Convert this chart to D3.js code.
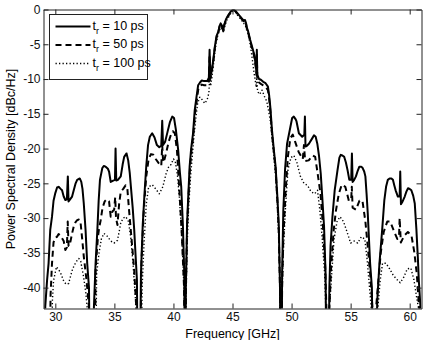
<!DOCTYPE html>
<html>
<head>
<meta charset="utf-8">
<script src="https://cdn.jsdelivr.net/npm/d3@7"></script>
<style>
	body { margin: 0; background: #fff; }
	svg { display: block; font-family: Arial, "Liberation Sans", sans-serif; }
</style>
</head>
<body>
<svg id="chart" width="427" height="340"></svg>
<script>
// PSD of the pulse train, [frequency GHz, dBc/Hz], -60 marks a null below the axis
const psd_10ps = [
	[29.05,-60],[29.15,-42.7],[29.3,-39],[29.43,-36.5],[29.57,-31.7],[29.72,-29.8],[29.85,-27.5],[30.0,-26.4],[30.15,-25.6],[30.28,-25.5],[30.45,-25.8],[30.57,-26.0],[30.71,-26.9],[30.85,-27.4],[30.98,-27.3],[31.06,-24.0],[31.12,-27.6],[31.25,-27.3],[31.42,-26.9],[31.56,-26.0],[31.72,-25.0],[31.85,-24.5],[32.07,-24.3],[32.2,-24.8],[32.3,-25.8],[32.41,-27.9],[32.56,-31.7],[32.7,-36.5],[32.85,-40],[32.97,-60],
	[33.12,-60],[33.27,-42.7],[33.41,-36.5],[33.56,-31.7],[33.67,-27.5],[33.78,-24.5],[33.98,-22.8],[34.1,-22.5],[34.26,-22.6],[34.45,-22.9],[34.55,-23.3],[34.69,-24.8],[34.9,-24.6],[35.05,-24.5],[35.1,-20.0],[35.16,-24.6],[35.3,-24.5],[35.54,-24.0],[35.7,-22.3],[35.83,-21.2],[36.03,-20.7],[36.17,-21.7],[36.3,-23.5],[36.4,-25.5],[36.55,-28.5],[36.68,-31.7],[36.8,-35.5],[36.91,-38.9],[37.0,-60],
	[37.12,-60],[37.25,-38],[37.4,-31],[37.55,-26.5],[37.7,-22.5],[37.85,-19.5],[38.0,-18.3],[38.2,-17.8],[38.4,-18.4],[38.6,-19.5],[38.8,-19.8],[38.97,-19.6],[39.05,-16.0],[39.12,-19.5],[39.3,-19.0],[39.5,-17.6],[39.7,-16.2],[39.9,-15.4],[40.05,-15.6],[40.2,-17.2],[40.4,-20.2],[40.55,-23.5],[40.66,-25.5],[40.8,-31],[40.92,-38],[40.97,-60],
	[41.0,-60],[41.05,-40],[41.15,-31],[41.25,-27],[41.37,-22.6],[41.5,-20],[41.66,-17.8],[41.8,-14.5],[41.95,-12.6],[42.09,-10.9],[42.25,-10.5],[42.4,-10.2],[42.6,-10.3],[42.86,-10.3],[43.0,-9.8],[43.06,-5.8],[43.12,-9.6],[43.22,-9.0],[43.37,-7.3],[43.5,-5.4],[43.65,-3.8],[43.8,-3.2],[43.9,-2.4],[44.0,-2.0],[44.1,-2.3],[44.22,-3.0],[44.3,-2.2],[44.45,-1.4],[44.65,-0.8],[44.85,-0.3],[45.05,0],
	[45.25,-0.2],[45.5,-0.7],[45.75,-1.2],[45.95,-1.6],[46.06,-1.5],[46.15,-2.0],[46.21,-2.6],[46.3,-3.0],[46.5,-4.4],[46.7,-5.6],[46.84,-6.5],[46.97,-8.0],[47.02,-9.0],[47.06,-5.8],[47.1,-9.4],[47.25,-10.0],[47.4,-10.1],[47.6,-10.4],[47.8,-10.6],[48.0,-11.1],[48.1,-12.3],[48.2,-14],[48.35,-17.5],[48.5,-20.2],[48.65,-22.6],[48.8,-27],[48.92,-31],[49.02,-40],[49.08,-60],
	[49.13,-60],[49.2,-38],[49.3,-29],[49.45,-23],[49.62,-19.3],[49.9,-16.9],[50.05,-15.6],[50.19,-15.4],[50.35,-15.8],[50.42,-16.1],[50.62,-17.8],[50.9,-18.3],[51.08,-18.0],[51.13,-15.4],[51.18,-19.7],[51.3,-19.6],[51.47,-19.3],[51.76,-18.5],[51.9,-18.1],[52.04,-18.3],[52.18,-19.3],[52.32,-21],[52.47,-23.6],[52.6,-27],[52.75,-31.2],[52.88,-38],[52.98,-60],
	[53.1,-60],[53.2,-40],[53.3,-34],[53.46,-29.8],[53.65,-26],[53.89,-23.1],[54.05,-21.3],[54.17,-20.9],[54.3,-21.0],[54.46,-21.2],[54.6,-22.0],[54.74,-23.1],[54.89,-24.5],[55.05,-24.5],[55.11,-20.7],[55.17,-24.8],[55.3,-24.5],[55.45,-24.0],[55.6,-23.2],[55.74,-22.6],[55.9,-22.6],[56.02,-22.8],[56.15,-23.3],[56.25,-24.0],[56.35,-26.5],[56.45,-29.3],[56.65,-36.5],[56.8,-40],[56.95,-60],
	[57.1,-60],[57.25,-42],[57.44,-36.5],[57.67,-31.7],[57.85,-27.5],[58.0,-25.5],[58.15,-24.5],[58.3,-24.3],[58.45,-24.3],[58.58,-24.5],[58.7,-25.3],[58.81,-26.0],[59.0,-26.9],[59.15,-26.9],[59.2,-23.3],[59.26,-28.0],[59.4,-27.6],[59.58,-26.9],[59.72,-26.2],[59.86,-25.7],[60.0,-25.8],[60.14,-26.0],[60.3,-26.8],[60.43,-27.9],[60.57,-31.7],[60.7,-36],[60.77,-38.9],[60.91,-42.7],[60.97,-60]
];

const psd_50ps = [
	[29.45,-60],[29.6,-41],[29.72,-36.5],[29.85,-33.5],[30.0,-32.8],[30.14,-32.7],[30.28,-32.3],[30.43,-32.5],[30.57,-32.9],[30.71,-33.3],[30.85,-34.6],[30.98,-34.2],[31.05,-30.5],[31.12,-34.0],[31.22,-33.9],[31.42,-32.2],[31.56,-31.2],[31.7,-30.6],[31.85,-30.3],[32.0,-30.2],[32.13,-30.5],[32.28,-33.1],[32.41,-35.5],[32.64,-38.9],[32.84,-42.7],[32.9,-60],
	[33.3,-60],[33.41,-37.5],[33.51,-35],[33.61,-32.7],[33.72,-31.3],[33.84,-30.3],[34.0,-28.5],[34.18,-27.6],[34.35,-27.3],[34.55,-27.6],[34.69,-29.8],[34.85,-29.0],[34.98,-28.8],[35.07,-27.0],[35.14,-30.0],[35.26,-31.0],[35.4,-28],[35.54,-26.2],[35.75,-25.8],[35.95,-25.3],[36.1,-25.8],[36.25,-29.0],[36.46,-33.1],[36.68,-37.5],[36.85,-42.7],[36.95,-60],
	[37.1,-60],[37.3,-36],[37.5,-28.5],[37.7,-24],[37.9,-21.5],[38.1,-20.8],[38.3,-20.9],[38.5,-21.5],[38.75,-22.1],[38.97,-22.5],[39.05,-19.5],[39.13,-22.0],[39.25,-21.5],[39.4,-20.5],[39.6,-19.0],[39.75,-18.2],[39.95,-17.5],[40.12,-17.8],[40.3,-20.3],[40.5,-26],[40.7,-32],[40.9,-40],[40.97,-60],
	[41.0,-60],[41.06,-40],[41.16,-31],[41.27,-27],[41.4,-22.8],[41.53,-20.3],[41.68,-18.2],[41.82,-15],[41.97,-13.2],[42.1,-11.5],[42.25,-11.0],[42.4,-10.8],[42.6,-10.9],[42.86,-10.9],[43.0,-10.3],[43.06,-6.5],[43.12,-10.0],[43.22,-9.3],[43.37,-7.5],[43.5,-5.6],[43.65,-4.0],[43.8,-3.3],[43.9,-2.5],[44.0,-2.1],[44.1,-2.4],[44.22,-3.1],[44.3,-2.3],[44.45,-1.5],[44.65,-0.9],[44.85,-0.35],[45.05,-0.05],
	[45.25,-0.25],[45.5,-0.8],[45.75,-1.3],[45.95,-1.7],[46.06,-1.6],[46.15,-2.1],[46.21,-2.7],[46.3,-3.1],[46.5,-4.6],[46.7,-5.8],[46.84,-6.8],[46.97,-8.3],[47.02,-9.4],[47.06,-6.5],[47.1,-9.8],[47.25,-10.5],[47.4,-10.7],[47.6,-10.9],[47.8,-11.1],[48.0,-11.6],[48.1,-12.8],[48.2,-14.5],[48.35,-18],[48.5,-20.5],[48.65,-23],[48.8,-27.5],[48.92,-32],[49.02,-40],[49.08,-60],
	[49.12,-60],[49.2,-40],[49.3,-33],[49.5,-26],[49.7,-21],[49.9,-18.5],[50.1,-18.0],[50.3,-19.0],[50.6,-20.5],[50.95,-21.5],[51.05,-19.5],[51.15,-21.8],[51.45,-21.7],[51.8,-21.0],[52.0,-21.2],[52.2,-23.5],[52.45,-26.5],[52.65,-31],[52.85,-37],[52.95,-43],[52.97,-60],
	[53.12,-60],[53.2,-43],[53.35,-37],[53.55,-32],[53.75,-29],[54.0,-26.5],[54.25,-25.2],[54.55,-25.5],[54.85,-27.5],[55.05,-27.3],[55.1,-25.5],[55.17,-28.5],[55.45,-28.8],[55.75,-27.5],[56.0,-27.5],[56.25,-30.5],[56.5,-35],[56.7,-39],[56.85,-43],[56.9,-60],
	[57.1,-60],[57.15,-43],[57.35,-39],[57.55,-35],[57.8,-32],[58.1,-30.5],[58.35,-30.5],[58.65,-31.8],[58.95,-33.0],[59.1,-32.5],[59.15,-30.0],[59.25,-33.5],[59.55,-32.5],[59.85,-32.0],[60.15,-32.5],[60.4,-35],[60.6,-38],[60.8,-43],[60.85,-60]
];

const psd_100ps = [
	[29.65,-60],[29.75,-42],[29.85,-39],[30.1,-37],[30.28,-37.4],[30.45,-37.9],[30.7,-39],[30.9,-39.5],[31.13,-39.4],[31.3,-38.3],[31.45,-37.4],[31.6,-36.8],[31.8,-36.2],[31.99,-35.8],[32.15,-36.2],[32.4,-38.5],[32.6,-41],[32.7,-43],[32.75,-60],
	[33.35,-60],[33.5,-38],[33.7,-35],[33.9,-33],[34.12,-32.2],[34.4,-32.6],[34.69,-33.3],[34.97,-33.6],[35.26,-33.2],[35.4,-32],[35.54,-30.7],[35.75,-30],[35.97,-29.8],[36.2,-30.5],[36.4,-33],[36.6,-37],[36.8,-42],[36.9,-60],
	[37.2,-60],[37.35,-40],[37.5,-34],[37.7,-28],[37.9,-25.5],[38.2,-25.2],[38.5,-25.8],[38.8,-26.5],[39.1,-25.5],[39.38,-23.6],[39.6,-22.6],[39.8,-22.3],[40.0,-21.5],[40.15,-21.8],[40.35,-24],[40.5,-27],[40.65,-31],[40.8,-36],[40.95,-43],[40.98,-60],
	[41.0,-60],[41.07,-41],[41.18,-33],[41.3,-28],[41.45,-24],[41.6,-21],[41.75,-18],[41.9,-15.5],[42.05,-13.5],[42.23,-12.6],[42.45,-13.0],[42.65,-13.5],[42.85,-13.0],[43.0,-12.0],[43.08,-9.5],[43.15,-11.0],[43.3,-9.2],[43.45,-7.0],[43.6,-5.0],[43.75,-3.8],[43.9,-3.0],[44.0,-2.6],[44.15,-2.8],[44.25,-3.3],[44.35,-2.4],[44.5,-1.6],[44.7,-1.0],[44.9,-0.4],[45.05,-0.2],
	[45.25,-0.4],[45.5,-1.0],[45.75,-1.5],[45.95,-2.0],[46.08,-2.2],[46.2,-3.0],[46.3,-3.4],[46.5,-5.0],[46.65,-6.8],[46.8,-8.8],[46.95,-10.5],[47.02,-11.2],[47.06,-9.0],[47.12,-11.8],[47.3,-12.2],[47.5,-11.6],[47.7,-12.5],[47.9,-13.2],[48.05,-14.5],[48.2,-16],[48.35,-18.5],[48.5,-21],[48.65,-24],[48.8,-28],[48.92,-33],[49.03,-41],[49.08,-60],
	[49.1,-60],[49.15,-43],[49.3,-35],[49.5,-28],[49.7,-23],[49.95,-21.3],[50.2,-21.0],[50.45,-22.0],[50.75,-24.0],[51.05,-25.0],[51.35,-25.3],[51.65,-26.2],[51.95,-26.5],[52.2,-26.0],[52.4,-29],[52.6,-33],[52.8,-38],[52.9,-43],[52.95,-60],
	[53.15,-60],[53.2,-43],[53.4,-38],[53.6,-33],[53.85,-30.5],[54.1,-29.8],[54.4,-30.5],[54.7,-32.0],[55.0,-33.6],[55.3,-33.3],[55.6,-33.6],[55.9,-32.7],[56.2,-33.0],[56.4,-36],[56.6,-40],[56.75,-43],[56.8,-60]
	,[57.2,-60],[57.3,-43],[57.5,-39],[57.7,-36.5],[58.0,-36.5],[58.3,-37.3],[58.6,-38.2],[58.9,-38.8],[59.2,-39.3],[59.5,-38.5],[59.8,-37.3],[60.1,-37.2],[60.35,-38.8],[60.6,-41.5],[60.75,-43],[60.8,-60]
];

const x_ticks = [30, 35, 40, 45, 50, 55, 60];
const y_ticks = [0, -5, -10, -15, -20, -25, -30, -35, -40];
const series_labels = ['10 ps', '50 ps', '100 ps'];

const x_domain = [29, 61];
const y_domain = [-43, 0];

const svg = d3.select('#chart');
const W = 427, H = 340;
const margin = {left: 43.5, right: 5.5, top: 9.5, bottom: 31.5};
const plotW = W - margin.left - margin.right;
const plotH = H - margin.top - margin.bottom;

const x = d3.scaleLinear().domain(x_domain).range([0, plotW]);
const y = d3.scaleLinear().domain(y_domain).range([plotH, 0]);

const g = svg.append('g').attr('transform', `translate(${margin.left},${margin.top})`);

g.append('clipPath').attr('id', 'plotclip')
	.append('rect').attr('width', plotW).attr('height', plotH);

const series = [
	{data: psd_10ps, dash: null, width: 2},
	{data: psd_50ps, dash: '6,4', width: 2},
	{data: psd_100ps, dash: '1.3,2.2', width: 1.4}
];

const line = d3.line().x(d => x(d[0])).y(d => y(d[1]));

const lines_layer = g.append('g').attr('clip-path', 'url(#plotclip)');
// draw dotted first so the solid curve stays on top
series.slice().reverse().forEach(s => {
	lines_layer.append('path')
		.datum(s.data)
		.attr('d', line)
		.attr('fill', 'none')
		.attr('stroke', '#000')
		.attr('stroke-width', s.width)
		.attr('stroke-linejoin', 'round')
		.attr('stroke-dasharray', s.dash);
});

// axes, MATLAB style: ticks inward on all four sides
const fmt = d => String(d);
const tickStyle = sel => {
	sel.select('.domain').attr('stroke', '#222').attr('stroke-width', 1);
	sel.selectAll('.tick line').attr('stroke', '#222');
	sel.selectAll('text').attr('font-size', 12).attr('fill', '#111')
		.attr('font-family', 'Arial, "Liberation Sans", sans-serif');
};

g.append('g').attr('transform', `translate(0,${plotH})`)
	.call(d3.axisBottom(x).tickValues(x_ticks).tickFormat(fmt).tickSizeInner(-5).tickSizeOuter(0).tickPadding(4))
	.call(tickStyle);
g.append('g')
	.call(d3.axisTop(x).tickValues(x_ticks).tickFormat('').tickSizeInner(-5).tickSizeOuter(0))
	.call(tickStyle);
g.append('g')
	.call(d3.axisLeft(y).tickValues(y_ticks).tickFormat(fmt).tickSizeInner(-5).tickSizeOuter(0).tickPadding(3))
	.call(tickStyle);
g.append('g').attr('transform', `translate(${plotW},0)`)
	.call(d3.axisRight(y).tickValues(y_ticks).tickFormat('').tickSizeInner(-5).tickSizeOuter(0))
	.call(tickStyle);

// axis labels
svg.append('text')
	.attr('x', margin.left + plotW / 2)
	.attr('y', 338)
	.attr('text-anchor', 'middle')
	.attr('font-size', 12.5)
	.text('Frequency [GHz]');
svg.append('text')
	.attr('transform', `translate(14.5,${margin.top + plotH / 2}) rotate(-90)`)
	.attr('text-anchor', 'middle')
	.attr('font-size', 12.5)
	.text('Power Spectral Density [dBc/Hz]');

// legend
const legend = g.append('g').attr('transform', 'translate(6,5)');
legend.append('rect')
	.attr('width', 98).attr('height', 65)
	.attr('fill', '#fff').attr('stroke', '#222').attr('stroke-width', 1);

series.forEach((s, i) => {
	const row = legend.append('g').attr('transform', `translate(0,${12 + i * 18.5})`);
	row.append('line')
		.attr('x1', 6).attr('x2', 41).attr('y1', 0).attr('y2', 0)
		.attr('stroke', '#000')
		.attr('stroke-width', s.width)
		.attr('stroke-dasharray', s.dash);
	const t = row.append('text')
		.attr('x', 43).attr('y', 3)
		.attr('font-size', 12.5);
	t.append('tspan').text('t');
	t.append('tspan').attr('font-size', 9).attr('dy', 4).text('r');
	t.append('tspan').attr('dy', -4).text(' = ' + series_labels[i]);
});
</script>
</body>
</html>
